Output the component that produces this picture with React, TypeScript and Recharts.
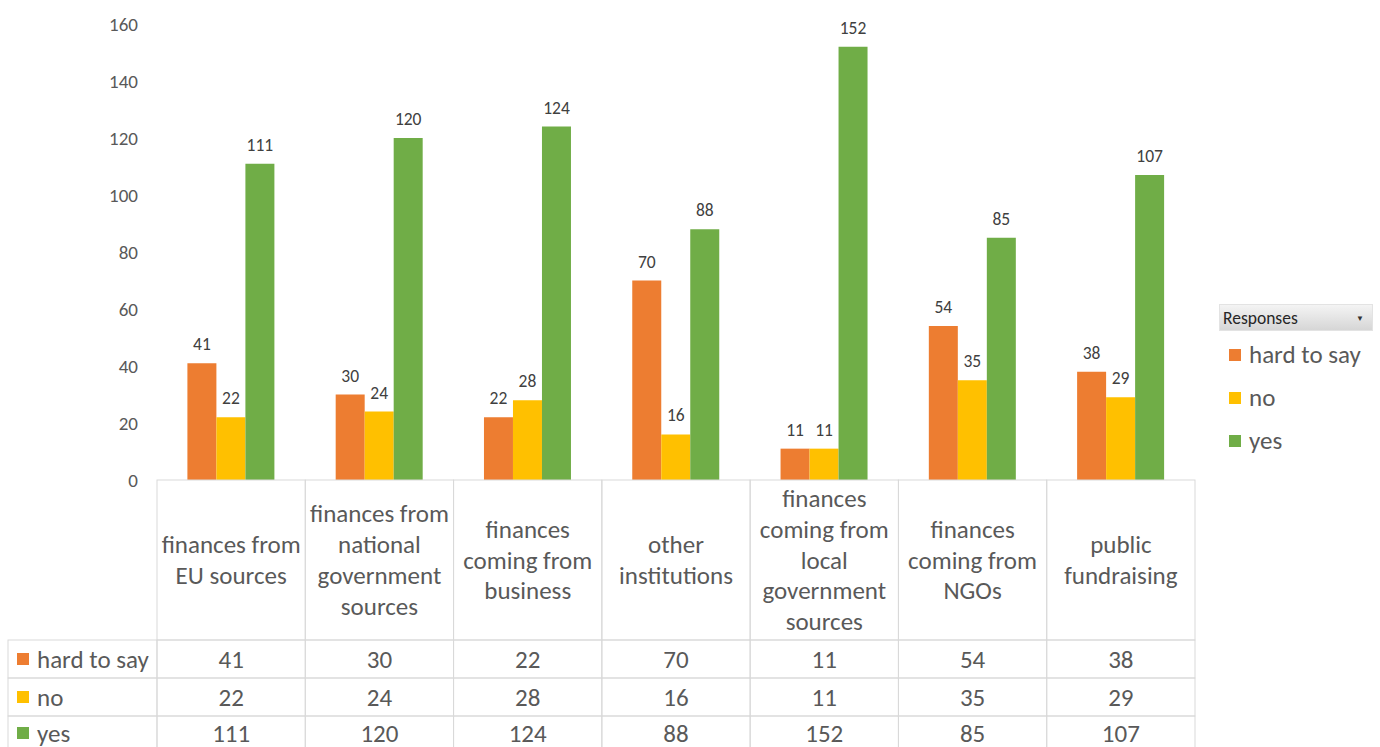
import { BarChart, Bar, XAxis, YAxis, Legend, LabelList } from "recharts";

const categories = [
  "finances from EU sources",
  "finances from national government sources",
  "finances coming from business",
  "other institutions",
  "finances coming from local government sources",
  "finances coming from NGOs",
  "public fundraising",
];

// wrapped header text, as shown in the table under the axis
const categoryLines = [
  ["finances from", "EU sources"],
  ["finances from", "national", "government", "sources"],
  ["finances", "coming from", "business"],
  ["other", "institutions"],
  ["finances", "coming from", "local", "government", "sources"],
  ["finances", "coming from", "NGOs"],
  ["public", "fundraising"],
];

const hardToSay = [41, 30, 22, 70, 11, 54, 38];
const no = [22, 24, 28, 16, 11, 35, 29];
const yes = [111, 120, 124, 88, 152, 85, 107];

const seriesNames = ["hard to say", "no", "yes"];
const seriesKeys = ["hardToSay", "no", "yes"];
const seriesColors = ["#ED7D31", "#FFC000", "#70AD47"];
const seriesValues = [hardToSay, no, yes];

const yTicks = [0, 20, 40, 60, 80, 100, 120, 140, 160];

const data = categories.map((category, i) => ({
  category,
  hardToSay: hardToSay[i],
  no: no[i],
  yes: yes[i],
}));

const FONT = "Carlito, Calibri, 'Open Sans', sans-serif";
const GRID = "#d9d9d9";
const TEXT = "#595959";

const WIDTH = 1380;
const HEIGHT = 747;
const MARGIN = { top: 24, right: 185, bottom: 0, left: 0 };
const Y_AXIS_W = 157;
const PLOT_W = WIDTH - MARGIN.left - MARGIN.right - Y_AXIS_W;
const COL_W = PLOT_W / categories.length;
const HEADER_H = 160;
const ROW_H = 38;
const LABEL_COL_LEFT = 8;
const LINE_H = 30.7;
const TABLE_FS = 25;

function TableTick(props: any) {
  const { x, y, index } = props;
  const left = x - COL_W / 2;
  const lines = categoryLines[index] || [];
  const mid = y + HEADER_H / 2;
  const firstY = mid - ((lines.length - 1) * LINE_H) / 2;
  return (
    <g>
      <rect x={left} y={y} width={COL_W} height={HEADER_H} fill="none" stroke={GRID} />
      {lines.map((ln, k) => (
        <text
          key={k}
          x={x}
          y={firstY + k * LINE_H}
          textAnchor="middle"
          dominantBaseline="central"
          fill={TEXT}
          fontSize={TABLE_FS}
          fontFamily={FONT}
        >
          {ln}
        </text>
      ))}
      {seriesValues.map((vals, r) => {
        const top = y + HEADER_H + r * ROW_H;
        return (
          <g key={r}>
            <rect x={left} y={top} width={COL_W} height={ROW_H} fill="none" stroke={GRID} />
            <text
              x={x}
              y={top + ROW_H / 2 - (r === 2 ? 2 : 0)}
              textAnchor="middle"
              dominantBaseline="central"
              fill={TEXT}
              fontSize={TABLE_FS}
              fontFamily={FONT}
            >
              {vals[index]}
            </text>
          </g>
        );
      })}
      {index === 0 &&
        seriesNames.map((name, r) => {
          const top = y + HEADER_H + r * ROW_H;
          return (
            <g key={"lbl" + r}>
              <rect
                x={LABEL_COL_LEFT}
                y={top}
                width={left - LABEL_COL_LEFT}
                height={ROW_H}
                fill="none"
                stroke={GRID}
              />
              <rect x={17} y={top + ROW_H / 2 - 6 - (r === 2 ? 2 : 0)} width={12} height={12} fill={seriesColors[r]} />
              <text
                x={37}
                y={top + ROW_H / 2 - (r === 2 ? 2 : 0)}
                dominantBaseline="central"
                fill={TEXT}
                fontSize={TABLE_FS}
                fontFamily={FONT}
              >
                {name}
              </text>
            </g>
          );
        })}
    </g>
  );
}

function LegendBox() {
  return (
    <div style={{ width: 154, fontFamily: FONT }}>
      <div
        style={{
          height: 27,
          background: "linear-gradient(#f4f4f4, #d6d6d6)",
          border: "1px solid #e3e3e3",
          boxSizing: "border-box",
          display: "flex",
          alignItems: "center",
          justifyContent: "space-between",
          padding: "0 8px 0 3px",
          fontSize: 17.5,
          color: "#262626",
        }}
      >
        <span>Responses</span>
        <span style={{ fontSize: 8, color: "#333" }}>▼</span>
      </div>
      {seriesNames.map((name, i) => (
        <div
          key={name}
          style={{ display: "flex", alignItems: "center", height: 43, paddingLeft: 10, marginTop: i === 0 ? 2 : 0 }}
        >
          <span style={{ width: 12, height: 12, background: seriesColors[i], display: "inline-block", marginRight: 8 }} />
          <span style={{ fontSize: 25, color: TEXT }}>{name}</span>
        </div>
      ))}
    </div>
  );
}

export default function App() {
  return (
    <div style={{ position: "absolute", left: 0, top: 0, background: "#fff" }}>
      <BarChart
        width={WIDTH}
        height={HEIGHT}
        data={data}
        margin={MARGIN}
        barCategoryGap="20.5%"
        barGap={0}
      >
        <XAxis
          dataKey="category"
          height={HEIGHT - 480}
          interval={0}
          axisLine={false}
          tickLine={false}
          tickSize={0}
          tickMargin={0}
          tick={<TableTick />}
        />
        <YAxis
          width={Y_AXIS_W}
          domain={[0, 160]}
          ticks={yTicks}
          axisLine={false}
          tickLine={false}
          tickMargin={13}
          tick={{ fill: TEXT, fontSize: 19, fontFamily: FONT }}
        />
        <Legend
          layout="vertical"
          align="center"
          verticalAlign="middle"
          wrapperStyle={{ left: 1219, top: 304, width: 154 }}
          content={<LegendBox />}
        />
        {seriesKeys.map((key, i) => (
          <Bar
            key={key}
            dataKey={key}
            name={seriesNames[i]}
            fill={seriesColors[i]}
            isAnimationActive={false}
          >
            <LabelList
              dataKey={key}
              position="top"
              offset={13}
              fill="#404040"
              fontSize={17.5}
              fontFamily={FONT}
            />
          </Bar>
        ))}
      </BarChart>
    </div>
  );
}
